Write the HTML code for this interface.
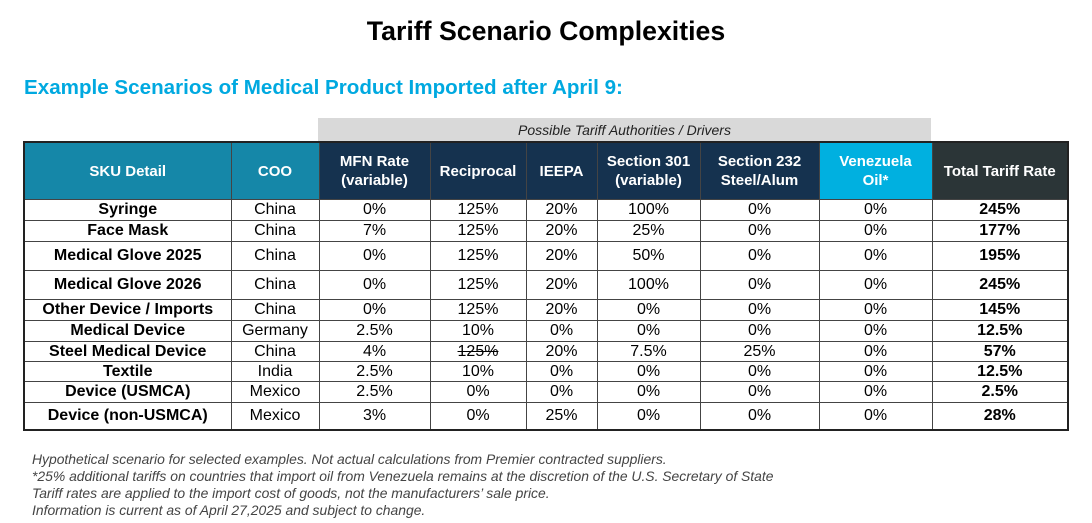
<!DOCTYPE html>
<html><head><meta charset="utf-8"><style>
body{margin:0;width:1092px;height:523px;background:#fff;font-family:"Liberation Sans",Arial,sans-serif;position:relative;overflow:hidden}
.title{position:absolute;left:0;width:1092px;top:16px;text-align:center;font-size:26.7px;font-weight:bold;color:#000}
.sub{position:absolute;left:24px;top:76px;font-size:20.6px;font-weight:bold;color:#00a9e0}
.band{position:absolute;left:318px;top:118px;width:613px;height:23px;background:#d9d9d9;font-style:italic;font-size:14px;text-align:center;line-height:24px;color:#222}
table{position:absolute;left:23px;top:141px;border-collapse:collapse;table-layout:fixed;border:2px solid #222;font-size:16px}
td,th{border:1px solid #444;padding:0;text-align:center;overflow:hidden;white-space:nowrap}
th{color:#fff;font-weight:bold;font-size:15px;height:56px;line-height:19px}
th.t{background:#1587a8}th.n{background:#15324f}th.v{background:#00b0e0}th.k{background:#2b3537}
td.b{font-weight:bold}
.notes{position:absolute;left:32px;top:451px;font-size:13.9px;font-style:italic;color:#444;line-height:17px}
s{text-decoration:line-through}
</style></head><body>
<div class="title">Tariff Scenario Complexities</div>
<div class="sub">Example Scenarios of Medical Product Imported after April 9:</div>
<div class="band">Possible Tariff Authorities / Drivers</div>
<table>
<colgroup><col style="width:207px"><col style="width:88px"><col style="width:111px"><col style="width:96px"><col style="width:71px"><col style="width:103px"><col style="width:119px"><col style="width:113px"><col style="width:136px"></colgroup>
<tr>
<th class="t">SKU Detail</th>
<th class="t">COO</th>
<th class="n">MFN Rate<br>(variable)</th>
<th class="n">Reciprocal</th>
<th class="n">IEEPA</th>
<th class="n">Section 301<br>(variable)</th>
<th class="n">Section 232<br>Steel/Alum</th>
<th class="v">Venezuela<br>Oil*</th>
<th class="k">Total Tariff Rate</th>
</tr>
<tr style="height:21px"><td class="b">Syringe</td><td>China</td><td>0%</td><td>125%</td><td>20%</td><td>100%</td><td>0%</td><td>0%</td><td class="b">245%</td></tr>
<tr style="height:21px"><td class="b">Face Mask</td><td>China</td><td>7%</td><td>125%</td><td>20%</td><td>25%</td><td>0%</td><td>0%</td><td class="b">177%</td></tr>
<tr style="height:29px"><td class="b">Medical Glove 2025</td><td>China</td><td>0%</td><td>125%</td><td>20%</td><td>50%</td><td>0%</td><td>0%</td><td class="b">195%</td></tr>
<tr style="height:29px"><td class="b">Medical Glove 2026</td><td>China</td><td>0%</td><td>125%</td><td>20%</td><td>100%</td><td>0%</td><td>0%</td><td class="b">245%</td></tr>
<tr style="height:21px"><td class="b">Other Device / Imports</td><td>China</td><td>0%</td><td>125%</td><td>20%</td><td>0%</td><td>0%</td><td>0%</td><td class="b">145%</td></tr>
<tr style="height:21px"><td class="b">Medical Device</td><td>Germany</td><td>2.5%</td><td>10%</td><td>0%</td><td>0%</td><td>0%</td><td>0%</td><td class="b">12.5%</td></tr>
<tr style="height:20px"><td class="b">Steel Medical Device</td><td>China</td><td>4%</td><td><s>125%</s></td><td>20%</td><td>7.5%</td><td>25%</td><td>0%</td><td class="b">57%</td></tr>
<tr style="height:20px"><td class="b">Textile</td><td>India</td><td>2.5%</td><td>10%</td><td>0%</td><td>0%</td><td>0%</td><td>0%</td><td class="b">12.5%</td></tr>
<tr style="height:21px"><td class="b">Device (USMCA)</td><td>Mexico</td><td>2.5%</td><td>0%</td><td>0%</td><td>0%</td><td>0%</td><td>0%</td><td class="b">2.5%</td></tr>
<tr style="height:27px"><td class="b">Device (non-USMCA)</td><td>Mexico</td><td>3%</td><td>0%</td><td>25%</td><td>0%</td><td>0%</td><td>0%</td><td class="b">28%</td></tr>
</table>
<div class="notes">
Hypothetical scenario for selected examples. Not actual calculations from Premier contracted suppliers.<br>
*25% additional tariffs on countries that import oil from Venezuela remains at the discretion of the U.S. Secretary of State<br>
Tariff rates are applied to the import cost of goods, not the manufacturers’ sale price.<br>
Information is current as of April 27,2025 and subject to change.
</div>
</body></html>
